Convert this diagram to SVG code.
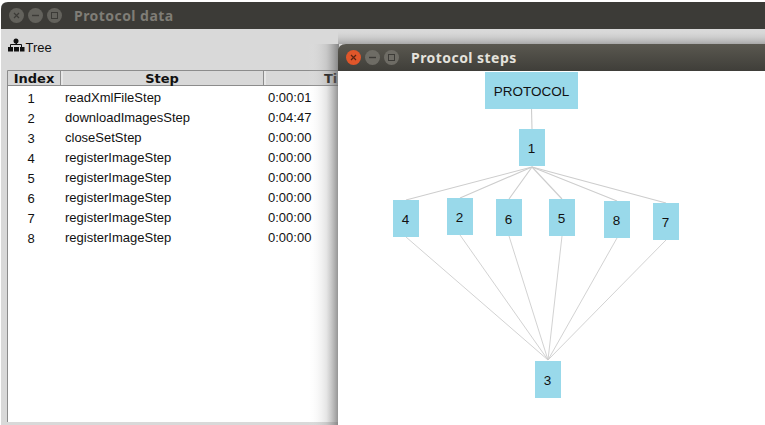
<svg xmlns="http://www.w3.org/2000/svg" width="765" height="425" viewBox="0 0 765 425">
<style>
.ui{font-family:"Liberation Sans",Arial,sans-serif;font-size:13px;fill:#111}
.c{text-anchor:middle}
.hd{font-family:"DejaVu Sans",sans-serif;font-size:13px;font-weight:bold;fill:#111;text-anchor:middle}
.title{font-family:"Noto Sans","Open Sans",sans-serif;font-size:14px;font-weight:bold;letter-spacing:.45px}
.node rect{fill:#99d9ea}
.node text{font-family:"Liberation Sans",Arial,sans-serif;font-size:13.500px;fill:#111;text-anchor:middle}
#connectors line{stroke:#cdcdcd;stroke-width:1.100}
#connectors line.low{stroke-width:.9}
</style>
<defs>
<linearGradient id="sh" x1="0" x2="1" y1="0" y2="0">
<stop offset="0" stop-color="#fff" stop-opacity="0"/><stop offset=".6" stop-color="#888" stop-opacity=".22"/><stop offset="1" stop-color="#666" stop-opacity=".75"/>
</linearGradient>
<linearGradient id="shg" x1="0" x2="0" y1="0" y2="1">
<stop offset="0" stop-color="#d8d8d8" stop-opacity="0"/><stop offset="1" stop-color="#777" stop-opacity=".5"/>
</linearGradient>
<linearGradient id="tb2" x1="0" x2="0" y1="0" y2="1">
<stop offset="0" stop-color="#5a5850"/><stop offset="1" stop-color="#3f3e39"/>
</linearGradient>
</defs>
<rect width="765" height="425" fill="#fff"/>
<path d="M1 29V9q0-7 7-7H765V29Z" fill="#3c3b37"/>
<rect x="1" y="29" width="764" height="396" fill="#d9d9d9"/>
<circle cx="16.500" cy="15.500" r="7.500" fill="#63625c"/><path d="M14 13l5 5M19 13l-5 5" stroke="#3c3b37" stroke-width="1.200"/>
<circle cx="35.500" cy="15.500" r="7.500" fill="#63625c"/><path d="M32 15.500h7" stroke="#3c3b37" stroke-width="1.400"/>
<circle cx="54.500" cy="15.500" r="7.500" fill="#63625c"/><rect x="51.500" y="12.500" width="6" height="6" fill="none" stroke="#3c3b37"/>
<text class="title" x="74" y="21" fill="#7f7d76">Protocol data</text>
<g fill="#111"><circle cx="16" cy="41" r="2.500"/><rect x="15.500" y="41" width="1.500" height="4"/><path d="M10.500 47V44.500H21.500V47" fill="none" stroke="#111"/><rect x="8" y="47" width="5" height="4.500"/><rect x="14" y="47" width="5" height="4.500"/><rect x="20" y="47" width="4.500" height="4.500"/></g>
<text class="ui" x="25.500" y="52">Tree</text>
<rect x="8" y="71" width="331" height="351" fill="#fff"/>
<path d="M7.500 422V70.500H339" fill="none" stroke="#8c8c8c"/>
<rect x="8" y="71" width="330" height="15" fill="#d8d8d8"/>
<path d="M8 85.500H339" stroke="#8c8c8c"/>
<path d="M60.500 71V85M263.500 71V85" stroke="#8c8c8c"/><path d="M62 71V85M265 71V85" stroke="#f4f4f4"/>
<text class="hd" x="34" y="83">Index</text><text class="hd" x="162" y="83">Step</text><text class="hd" x="324" y="83" style="text-anchor:start">Ti</text>
<g class="ui">
<text class="c" x="31" y="103">1</text><text x="65" y="102">readXmlFileStep</text><text x="268" y="102">0:00:01</text>
<text class="c" x="31" y="123">2</text><text x="65" y="122">downloadImagesStep</text><text x="268" y="122">0:04:47</text>
<text class="c" x="31" y="143">3</text><text x="65" y="142">closeSetStep</text><text x="268" y="142">0:00:00</text>
<text class="c" x="31" y="163">4</text><text x="65" y="162">registerImageStep</text><text x="268" y="162">0:00:00</text>
<text class="c" x="31" y="183">5</text><text x="65" y="182">registerImageStep</text><text x="268" y="182">0:00:00</text>
<text class="c" x="31" y="203">6</text><text x="65" y="202">registerImageStep</text><text x="268" y="202">0:00:00</text>
<text class="c" x="31" y="223">7</text><text x="65" y="222">registerImageStep</text><text x="268" y="222">0:00:00</text>
<text class="c" x="31" y="243">8</text><text x="65" y="242">registerImageStep</text><text x="268" y="242">0:00:00</text>
</g>
<rect x="308" y="44" width="31" height="381" fill="url(#sh)"/>
<rect x="338" y="30" width="427" height="14" fill="url(#shg)"/>
<path d="M338 71V52q0-8 8-8H765V71Z" fill="url(#tb2)"/>
<rect x="338" y="71" width="427" height="354" fill="#fff"/>
<circle cx="353.500" cy="57.500" r="7.500" fill="#e0562a"/><path d="M351 55l5 5M356 55l-5 5" stroke="#5a2412" stroke-width="1.200"/>
<circle cx="372.500" cy="57.500" r="7.500" fill="#6e6c65"/><path d="M369 57.500h7" stroke="#3c3b37" stroke-width="1.400"/>
<circle cx="391.500" cy="57.500" r="7.500" fill="#6e6c65"/><rect x="388.500" y="54.500" width="6" height="6" fill="none" stroke="#3c3b37"/>
<text class="title" x="411" y="63" fill="#e4e2dc">Protocol steps</text>
<g id="connectors">
<line x1="531.500" y1="109" x2="532" y2="129"/>
<line x1="532" y1="167" x2="406" y2="200"/>
<line x1="532" y1="167" x2="460" y2="198"/>
<line x1="532" y1="167" x2="509" y2="199"/>
<line x1="532" y1="167" x2="562" y2="199"/>
<line x1="532" y1="167" x2="617" y2="201"/>
<line x1="532" y1="167" x2="666" y2="203"/>
<line class="low" x1="406" y1="237" x2="548" y2="360"/>
<line class="low" x1="460" y1="235" x2="548" y2="360"/>
<line class="low" x1="509" y1="236" x2="548" y2="360"/>
<line class="low" x1="562" y1="236" x2="548" y2="360"/>
<line class="low" x1="617" y1="238" x2="548" y2="360"/>
<line class="low" x1="666" y1="240" x2="548" y2="360"/>
</g>
<g id="node-protocol" class="node"><rect x="485" y="72" width="93" height="37"/><text x="531.500" y="96">PROTOCOL</text></g>
<g id="node-1" class="node"><rect x="519" y="129" width="26" height="37"/><text x="531.500" y="153">1</text></g>
<g id="node-4" class="node"><rect x="393" y="200" width="26" height="37"/><text x="405.500" y="224">4</text></g>
<g id="node-2" class="node"><rect x="447" y="198" width="26" height="37"/><text x="459.500" y="222">2</text></g>
<g id="node-6" class="node"><rect x="496" y="199" width="26" height="37"/><text x="508.500" y="224">6</text></g>
<g id="node-5" class="node"><rect x="549" y="199" width="26" height="37"/><text x="561.500" y="223">5</text></g>
<g id="node-8" class="node"><rect x="604" y="201" width="26" height="37"/><text x="616.500" y="225">8</text></g>
<g id="node-7" class="node"><rect x="653" y="203" width="26" height="37"/><text x="665.500" y="227">7</text></g>
<g id="node-3" class="node"><rect x="535" y="361" width="26" height="37"/><text x="547.500" y="385">3</text></g>
</svg>
